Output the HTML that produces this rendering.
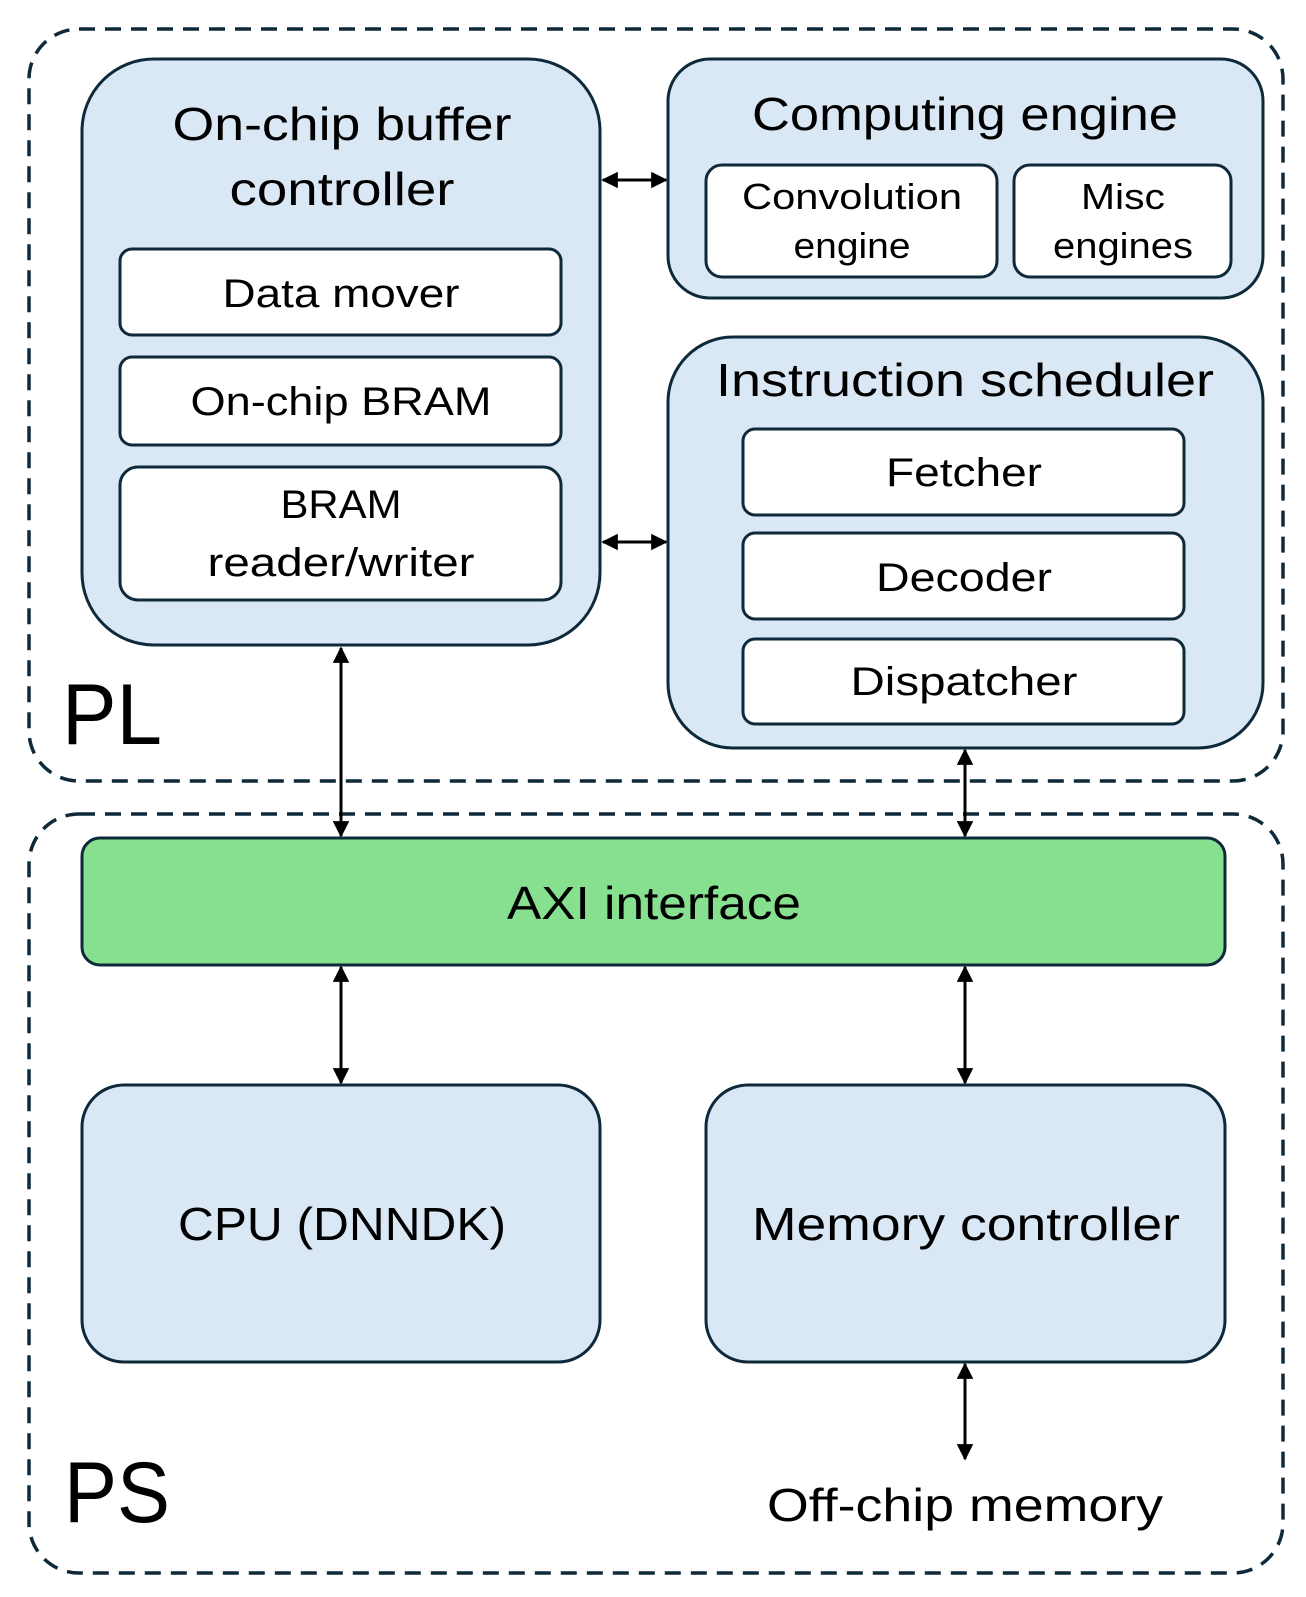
<!DOCTYPE html>
<html><head><style>
html,body{margin:0;padding:0;background:#fff}
svg{display:block}
text{font-family:"Liberation Sans",sans-serif;fill:#000;text-anchor:middle}
</style></head><body>
<svg width="1306" height="1597" viewBox="0 0 1306 1597" xmlns="http://www.w3.org/2000/svg">
<defs>
<marker id="ah" viewBox="0 0 10 10" refX="9" refY="5" markerWidth="5.5" markerHeight="5.5" orient="auto-start-reverse"><path d="M0,0 L10,5 L0,10 z" fill="#000"/></marker>
</defs>
<g fill="none" stroke="#0e2a3a" stroke-width="3.5" stroke-dasharray="16,10">
<rect x="29" y="29" width="1254" height="752" rx="50"/>
<rect x="29" y="814" width="1254" height="759" rx="50"/>
</g>
<g stroke="#0e2a3a" stroke-width="3">
<rect x="82" y="59" width="518" height="586" rx="72" fill="#dae8f5"/>
<rect x="668" y="59" width="595" height="239" rx="42" fill="#dae8f5"/>
<rect x="668" y="337" width="595" height="411" rx="65" fill="#dae8f5"/>
<rect x="82" y="838" width="1143" height="127" rx="18" fill="#86e08f"/>
<rect x="82" y="1085" width="518" height="277" rx="42" fill="#dae8f5"/>
<rect x="706" y="1085" width="519" height="277" rx="42" fill="#dae8f5"/>
<g fill="#fff">
<rect x="120" y="249" width="441" height="86" rx="12"/>
<rect x="120" y="357" width="441" height="88" rx="12"/>
<rect x="120" y="467" width="441" height="133" rx="18"/>
<rect x="706" y="165" width="291" height="112" rx="16"/>
<rect x="1014" y="165" width="217" height="112" rx="16"/>
<rect x="743" y="429" width="441" height="86" rx="12"/>
<rect x="743" y="533" width="441" height="86" rx="12"/>
<rect x="743" y="639" width="441" height="85" rx="12"/>
</g>
</g>
<g stroke="#000" stroke-width="3" marker-start="url(#ah)" marker-end="url(#ah)">
<line x1="603" y1="180" x2="666" y2="180"/>
<line x1="603" y1="542" x2="666" y2="542"/>
<line x1="341" y1="648" x2="341" y2="836"/>
<line x1="965" y1="750" x2="965" y2="836"/>
<line x1="341" y1="967" x2="341" y2="1083"/>
<line x1="965" y1="967" x2="965" y2="1083"/>
<line x1="965" y1="1364" x2="965" y2="1459"/>
</g>
<g font-size="46">
<text x="342" y="140" textLength="339" lengthAdjust="spacingAndGlyphs">On-chip buffer</text>
<text x="342" y="205" textLength="225" lengthAdjust="spacingAndGlyphs">controller</text>
<text x="965" y="130" textLength="426" lengthAdjust="spacingAndGlyphs">Computing engine</text>
<text x="965" y="396" textLength="498" lengthAdjust="spacingAndGlyphs">Instruction scheduler</text>
<text x="654" y="919" textLength="294" lengthAdjust="spacingAndGlyphs">AXI interface</text>
<text x="342" y="1240" textLength="328" lengthAdjust="spacingAndGlyphs">CPU (DNNDK)</text>
<text x="966" y="1240" textLength="428" lengthAdjust="spacingAndGlyphs">Memory controller</text>
<text x="965" y="1521" textLength="396" lengthAdjust="spacingAndGlyphs">Off-chip memory</text>
</g>
<g font-size="40">
<text x="341" y="307" textLength="237" lengthAdjust="spacingAndGlyphs">Data mover</text>
<text x="341" y="415" textLength="301" lengthAdjust="spacingAndGlyphs">On-chip BRAM</text>
<text x="341" y="518" textLength="121" lengthAdjust="spacingAndGlyphs">BRAM</text>
<text x="341" y="576" textLength="267" lengthAdjust="spacingAndGlyphs">reader/writer</text>
<text x="964" y="486" textLength="156" lengthAdjust="spacingAndGlyphs">Fetcher</text>
<text x="964" y="591" textLength="176" lengthAdjust="spacingAndGlyphs">Decoder</text>
<text x="964" y="695" textLength="227" lengthAdjust="spacingAndGlyphs">Dispatcher</text>
</g>
<g font-size="36">
<text x="852" y="209" textLength="220" lengthAdjust="spacingAndGlyphs">Convolution</text>
<text x="852" y="258" textLength="117" lengthAdjust="spacingAndGlyphs">engine</text>
<text x="1123" y="209" textLength="84" lengthAdjust="spacingAndGlyphs">Misc</text>
<text x="1123" y="258" textLength="140" lengthAdjust="spacingAndGlyphs">engines</text>
</g>
<g font-size="86">
<text x="62" y="744" style="text-anchor:start" textLength="100" lengthAdjust="spacingAndGlyphs">PL</text>
<text x="64" y="1522" style="text-anchor:start" textLength="106" lengthAdjust="spacingAndGlyphs">PS</text>
</g>
</svg>
</body></html>
